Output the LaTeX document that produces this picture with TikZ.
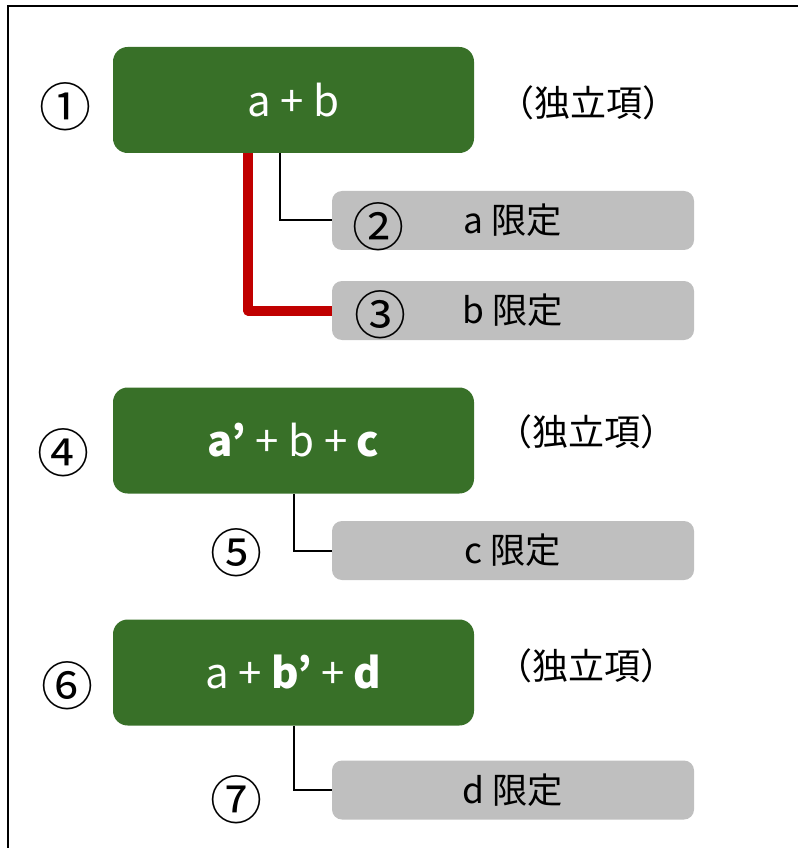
\documentclass[tikz,border=0pt]{standalone}
\usepackage{fontspec}
\setmainfont{Noto Sans CJK JP}
\usepackage{tikz}
\definecolor{termgreen}{RGB}{56,112,40}
\definecolor{limgray}{RGB}{191,191,191}
\definecolor{linkred}{RGB}{192,0,0}
\tikzstyle{termbox} = [fill=termgreen, rounded corners=11pt, minimum width=270.75pt, minimum height=79.5pt, text=white, font=\fontsize{31.5}{36}\selectfont]
\tikzstyle{limbox} = [fill=limgray, rounded corners=7.5pt, minimum width=271.5pt, minimum height=44.25pt, font=\fontsize{26.5}{30}\selectfont]
\tikzstyle{tag} = [font=\fontsize{27}{30}\selectfont]
\tikzstyle{num} = [inner sep=0pt, font=\fontsize{39}{40}\selectfont]
\tikzstyle{link} = [line width=1.5pt, black]

\begin{document}
\begin{tikzpicture}[x=0.75pt, y=-0.75pt]
\useasboundingbox (0,0) rectangle (798,848);
% Frame
\draw[line width=1.5pt] (800,6) -- (8,6) -- (8,850);

% Terms
\node[termbox] (t1) at (293.5,100) {a + b};
\node[termbox] (t2) at (293.5,440.5) {\textbf{a’} + b + \textbf{c}};
\node[termbox] (t3) at (293.5,672.5) {a + \textbf{b’} + \textbf{d}};
\node[tag] (i1) at (588,103) {（独立項）};
\node[tag] (i2) at (586,432) {（独立項）};
\node[tag] (i3) at (586,666) {（独立項）};

% Limited terms
\node[limbox] (l1) at (513,220.5) {a 限定};
\node[limbox] (l2) at (513,310.5) {b 限定};
\node[limbox] (l3) at (513,550.5) {c 限定};
\node[limbox] (l4) at (513,790) {d 限定};

% Links
\draw[link] ([xshift=-10pt]t1.south) |- (l1.west);
\draw[line width=7.5pt, linkred, line join=round] ([xshift=-34pt]t1.south) |- (l2.west);
\draw[link] (t2.south) |- (l3.west);
\draw[link] (t3.south) |- (l4.west);

% Numbers
\node[num] (n1) at (65,107) {①};
\node[num] (n2) at (378,227) {②};
\node[num] (n3) at (380,315) {③};
\node[num] (n4) at (63,453) {④};
\node[num] (n5) at (236,553) {⑤};
\node[num] (n6) at (67,686) {⑥};
\node[num] (n7) at (236,800) {⑦};
\end{tikzpicture}
\end{document}
